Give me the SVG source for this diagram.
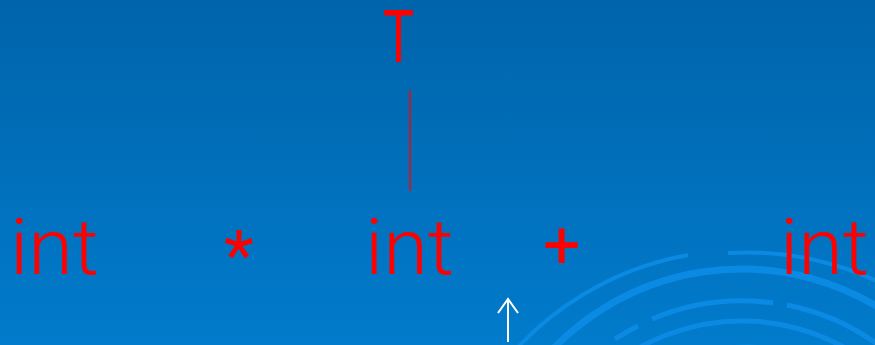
<svg xmlns="http://www.w3.org/2000/svg" width="875" height="345" viewBox="0 0 875 345">
<defs>
<linearGradient id="bg" x1="0" y1="0" x2="0" y2="1">
<stop offset="0" stop-color="#0064ab"/>
<stop offset="1" stop-color="#017bcb"/>
</linearGradient>
</defs>
<style>
.sym{font-family:Roboto,"Liberation Sans",Arial,sans-serif;font-weight:300;fill:#ff0000}
.reg{font-weight:400}
.arc{fill:none;stroke:#0b8ae3}
</style>
<rect width="875" height="345" fill="url(#bg)"/>
<g id="decor">
<path class="arc" stroke-width="4" d="M500,368 A309,309 0 0 1 688,255 M728,253 A309,309 0 0 1 900,293"/>
<path class="arc" stroke-width="7" d="M530,376 A263,263 0 0 1 900,322"/>
<path class="arc" stroke-width="5" d="M615,339 A231,231 0 0 1 638,326 M652,319 A231,231 0 0 1 773,303 M787,305 A231,231 0 0 1 900,363"/>
<path class="arc" stroke-width="5" d="M600,376 A211,211 0 0 1 900,392"/>
<path class="arc" stroke-width="5" d="M640,380 A192,192 0 0 1 880,400"/>
</g>
<g id="connectors">
<line x1="410" y1="90" x2="410" y2="191" stroke="#ff0000" stroke-width="1.5"/>
</g>
<g id="node-T"><text class="sym reg" x="383" y="62" font-size="72" textLength="31" lengthAdjust="spacingAndGlyphs">T</text></g>
<g id="node-int1"><text class="sym" x="10" y="274" font-size="77" textLength="89" lengthAdjust="spacingAndGlyphs">int</text></g>
<g id="node-star"><text class="sym reg" x="224" y="279" font-size="69">*</text></g>
<g id="node-int2"><text class="sym" x="365" y="274" font-size="77" textLength="89" lengthAdjust="spacingAndGlyphs">int</text></g>
<g id="node-plus"><text class="sym reg" x="543" y="268" font-size="66">+</text></g>
<g id="node-int3"><text class="sym" x="780" y="274" font-size="77" textLength="89" lengthAdjust="spacingAndGlyphs">int</text></g>
<g id="pointer">
<line x1="508" y1="299" x2="508" y2="342" stroke="#ffffff" stroke-width="2"/>
<polyline points="498,313 508,299 518,313" fill="none" stroke="#ffffff" stroke-width="2"/>
</g>
</svg>
